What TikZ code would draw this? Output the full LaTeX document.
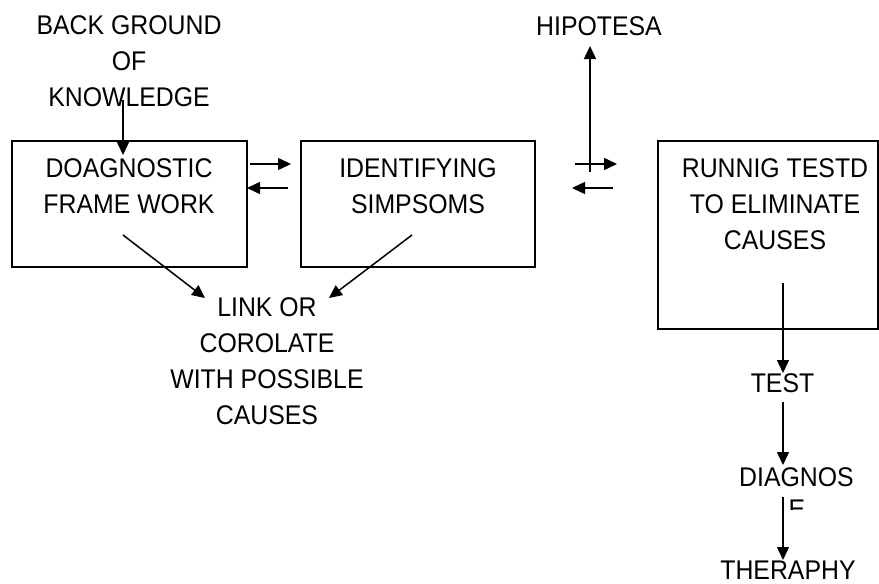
\documentclass[tikz,border=0pt]{standalone}
\usepackage{fontspec}
\setmainfont{Liberation Sans}[FakeStretch=0.92]
\usetikzlibrary{arrows.meta}
\begin{document}
\begin{tikzpicture}[x=1pt,y=-1pt,
  lbl/.style={align=center,inner sep=0pt,font=\fontsize{27}{36}\selectfont},
  box/.style={draw,line width=1.5pt},
  arr/.style={line width=1.5pt,-{Triangle[length=13pt,width=12pt]}}]
\useasboundingbox (0,0) rectangle (879,584);
% boxes
\draw[box] (12,141) rectangle (247,267);
\draw[box] (301,141) rectangle (535,267);
\draw[box] (658,141) rectangle (878,329);
% texts
\node[lbl] (bg) at (129,61.5) {BACK GROUND\\OF\\KNOWLEDGE};
\node[lbl] (dfw) at (129,186.5) {DOAGNOSTIC\\FRAME WORK};
\node[lbl] (ids) at (418,186.5) {IDENTIFYING\\SIMPSOMS};
\node[lbl] (run) at (775,204) {RUNNIG TESTD\\TO ELIMINATE\\CAUSES};
\node[lbl] (hip) at (599,26.5) {HIPOTESA};
\node[lbl] (link) at (267,361) {LINK OR\\COROLATE\\WITH POSSIBLE\\CAUSES};
\node[lbl] (test) at (782.5,383) {TEST};
\node[lbl] (diag) at (796.5,477) {DIAGNOS};
\node[lbl] (ther) at (788,570) {THERAPHY};
% clipped fragment of the next line of DIAGNOS
\begin{scope}
\clip (780,499) rectangle (815,509);
\node[lbl,anchor=north] (frag) at (797,500) {E};
\end{scope}
% connector end points
\coordinate (a1) at (123,100);
\coordinate (a2) at (123,155);
\coordinate (r1s) at (250,164); \coordinate (r1e) at (291,164);
\coordinate (l1s) at (288,188); \coordinate (l1e) at (247,188);
\coordinate (r2s) at (575,164); \coordinate (r2e) at (617,164);
\coordinate (l2s) at (613,188); \coordinate (l2e) at (572,188);
\coordinate (hs) at (590,172); \coordinate (he) at (590,46);
\coordinate (d1s) at (123,235); \coordinate (d1e) at (205,298);
\coordinate (d2s) at (412,235); \coordinate (d2e) at (329,298);
\coordinate (v1s) at (783,283); \coordinate (v1e) at (783,373);
\coordinate (v2s) at (783,402); \coordinate (v2e) at (783,465);
\coordinate (v3s) at (783,497); \coordinate (v3e) at (783,560);
% connectors
\draw[arr] (a1) -- (a2);
\draw[arr] (r1s) -- (r1e);
\draw[arr] (l1s) -- (l1e);
\draw[arr] (r2s) -- (r2e);
\draw[arr] (l2s) -- (l2e);
\draw[arr] (hs) -- (he);
\draw[arr] (d1s) -- (d1e);
\draw[arr] (d2s) -- (d2e);
\draw[arr] (v1s) -- (v1e);
\draw[arr] (v2s) -- (v2e);
\draw[arr] (v3s) -- (v3e);
\end{tikzpicture}
\end{document}
